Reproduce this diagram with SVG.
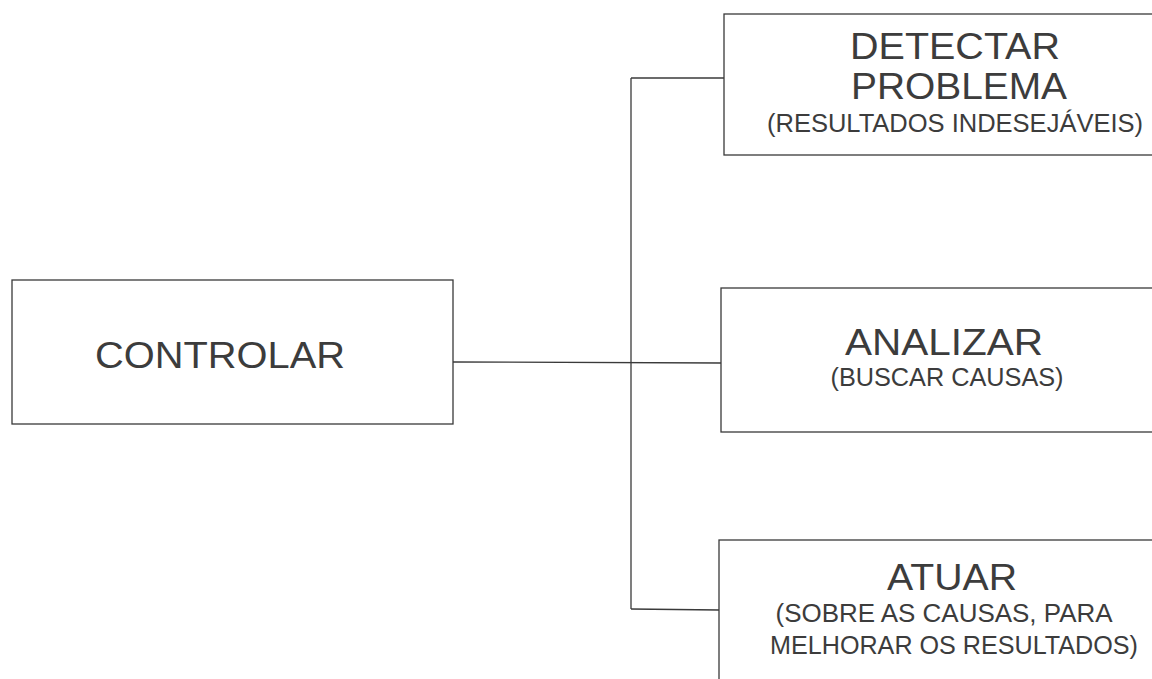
<svg xmlns="http://www.w3.org/2000/svg" width="1152" height="679" viewBox="0 0 1152 679">
<style>
.box{fill:#fff;stroke:#3a3a3a;stroke-width:1.3}
.conn{fill:none;stroke:#3a3a3a;stroke-width:1.3}
.big{font-family:"Liberation Sans",Arial,sans-serif;font-size:37px;fill:#3c3c3c;text-anchor:middle}
.small{font-family:"Liberation Sans",Arial,sans-serif;font-size:25px;fill:#3c3c3c;text-anchor:middle}
</style>
<rect width="1152" height="679" fill="#fff"/>
<g id="connectors">
<line class="conn" x1="453" y1="362" x2="721" y2="363"/>
<line class="conn" x1="631" y1="78" x2="631" y2="609"/>
<line class="conn" x1="631" y1="78" x2="724" y2="78"/>
<line class="conn" x1="631" y1="609" x2="719" y2="610"/>
</g>
<g id="controlar">
<rect class="box" x="12" y="280" width="441" height="144"/>
<text class="big" x="220" y="368" textLength="250" lengthAdjust="spacingAndGlyphs">CONTROLAR</text>
</g>
<g id="detectar">
<rect class="box" x="724" y="14" width="440" height="141"/>
<text class="big" x="955" y="59" textLength="210" lengthAdjust="spacingAndGlyphs">DETECTAR</text>
<text class="big" x="959" y="99" textLength="216" lengthAdjust="spacingAndGlyphs">PROBLEMA</text>
<text class="small" x="955" y="132" textLength="376" lengthAdjust="spacingAndGlyphs">(RESULTADOS INDESEJÁVEIS)</text>
</g>
<g id="analizar">
<rect class="box" x="721" y="288" width="440" height="144"/>
<text class="big" x="944" y="355" textLength="198" lengthAdjust="spacingAndGlyphs">ANALIZAR</text>
<text class="small" x="947" y="386" textLength="233" lengthAdjust="spacingAndGlyphs">(BUSCAR CAUSAS)</text>
</g>
<g id="atuar">
<rect class="box" x="719" y="540" width="440" height="145"/>
<text class="big" x="952" y="590" textLength="130" lengthAdjust="spacingAndGlyphs">ATUAR</text>
<text class="small" x="944" y="622" textLength="337" lengthAdjust="spacingAndGlyphs">(SOBRE AS CAUSAS, PARA</text>
<text class="small" x="954" y="654" textLength="368" lengthAdjust="spacingAndGlyphs">MELHORAR OS RESULTADOS)</text>
</g>
</svg>
